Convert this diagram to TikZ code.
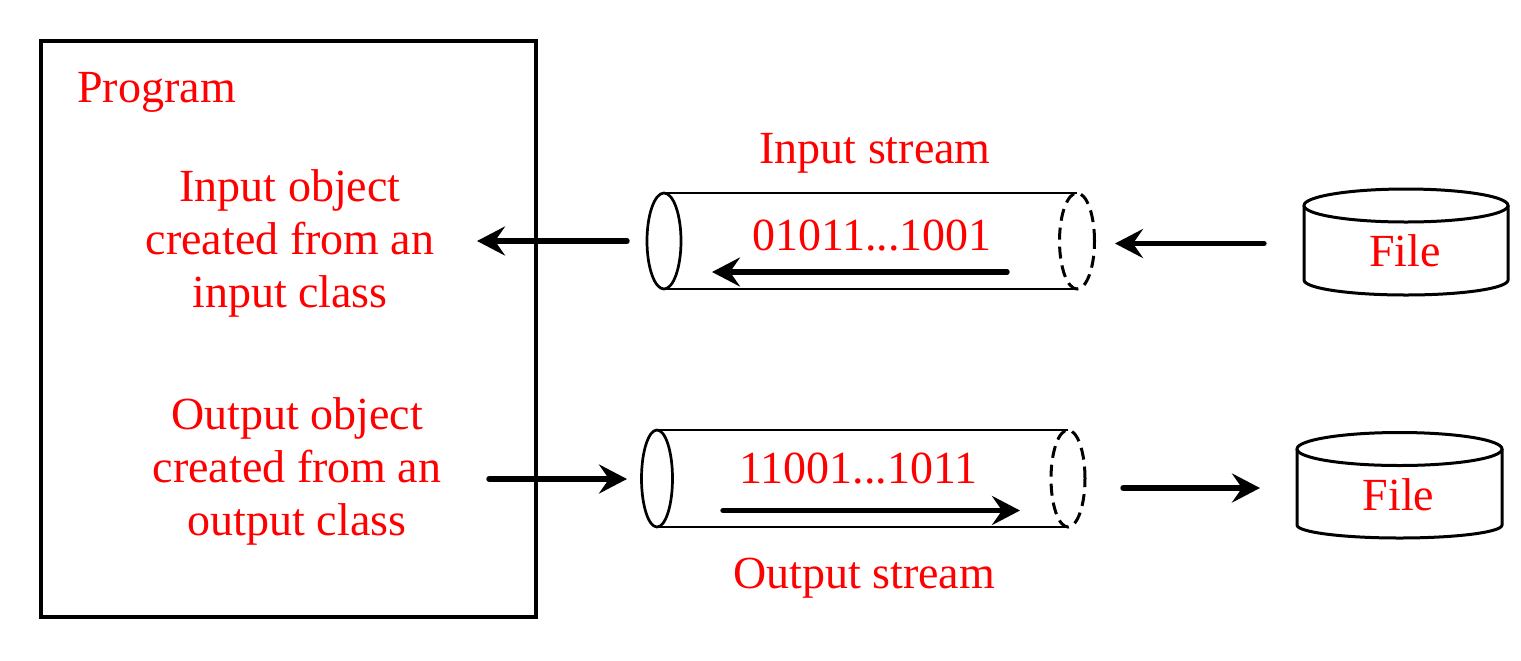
\documentclass[tikz,border=0pt]{standalone}
\usepackage{fontspec}
\setmainfont{Liberation Serif}
\usetikzlibrary{arrows.meta}
\begin{document}
\begin{tikzpicture}[x=0.5pt,y=-0.5pt,
  lbl/.style={text=red,inner sep=0pt,font=\fontsize{23pt}{26.5pt}\selectfont},
  flow/.style={line width=2.7pt,line cap=round,-{Stealth[length=14pt,width=14.5pt,inset=5pt]}},
  tube/.style={line width=1.35pt},
  tubeend/.style={line width=1.5pt,dash pattern=on 6pt off 3.5pt},
  filecyl/.style={line width=1.5pt},
  frame/.style={line width=1.6pt}]
\useasboundingbox (0,0) rectangle (1521,660);
% program box
\draw[frame] (41,41) rectangle (536,617);
\node[lbl,anchor=base west] (prog) at (77,102) {Program};
\node[lbl,align=center] (inobj) at (290,243) {Input object\\created from an\\input class};
\node[lbl,align=center] (outobj) at (297,471) {Output object\\created from an\\output class};
% input stream tube
\draw[tube] (664,193) -- (1077,193) (664,289) -- (1077,289);
\draw[tube] (664,241) ellipse [x radius=8.5pt, y radius=24pt];
\draw[tubeend] (1077,241) ellipse [x radius=8.75pt, y radius=24pt];
\node[lbl,anchor=base] (instream) at (875,163) {Input stream};
\node[lbl,anchor=base] (inbits) at (872,250) {01011...1001};
% output stream tube
\draw[tube] (657,430) -- (1068,430) (657,527) -- (1068,527);
\draw[tube] (657,478.5) ellipse [x radius=7.75pt, y radius=24.25pt];
\draw[tubeend] (1068,478.5) ellipse [x radius=8.5pt, y radius=24.25pt];
\node[lbl,anchor=base] (outstream) at (864,588) {Output stream};
\node[lbl,anchor=base] (outbits) at (858.5,483) {11001...1011};
% file cylinders
\draw[filecyl] (1304,205.5) -- (1304,280) arc[start angle=180,end angle=360,x radius=51pt,y radius=7.5pt] -- (1508,205.5);
\draw[filecyl] (1406,205.5) ellipse [x radius=51pt, y radius=8.25pt];
\node[lbl,anchor=base] (file1) at (1405,266) {File};
\draw[filecyl] (1297,449) -- (1297,525) arc[start angle=180,end angle=360,x radius=51.25pt,y radius=6.5pt] -- (1502,449);
\draw[filecyl] (1399.5,449) ellipse [x radius=51.25pt, y radius=8.25pt];
\node[lbl,anchor=base] (file2) at (1398.5,510) {File};
% arrow end points
\coordinate (a1s) at (627,241); \coordinate (a1e) at (477,241);
\coordinate (a2s) at (1007,272); \coordinate (a2e) at (712,272);
\coordinate (a3s) at (1264,243.5); \coordinate (a3e) at (1115,243.5);
\coordinate (a4s) at (489,479); \coordinate (a4e) at (627,479);
\coordinate (a5s) at (723,510.5); \coordinate (a5e) at (1020,510.5);
\coordinate (a6s) at (1123,488); \coordinate (a6e) at (1260,488);
\draw[flow] (a1s) -- (a1e);
\draw[flow] (a2s) -- (a2e);
\draw[flow] (a3s) -- (a3e);
\draw[flow] (a4s) -- (a4e);
\draw[flow] (a5s) -- (a5e);
\draw[flow] (a6s) -- (a6e);
\end{tikzpicture}
\end{document}
